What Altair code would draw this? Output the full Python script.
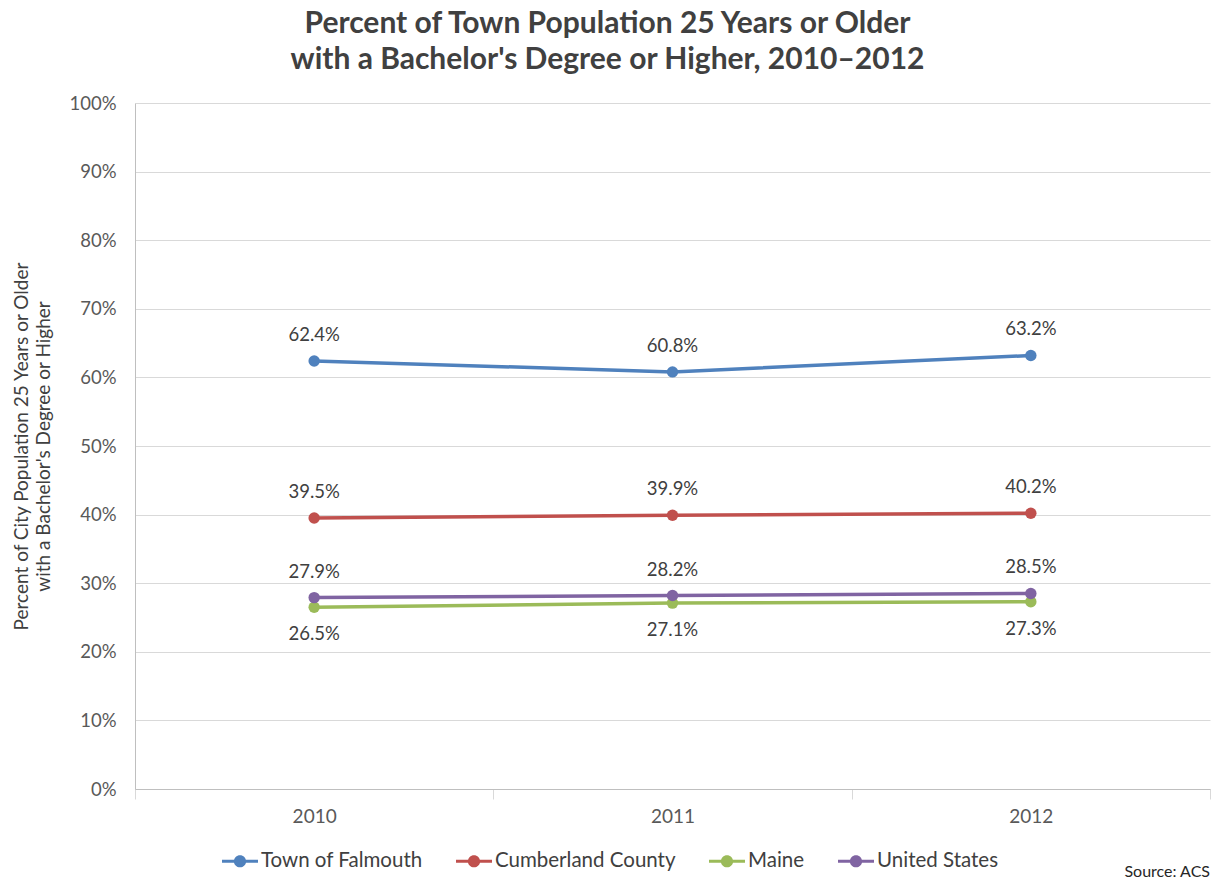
import altair as alt
import pandas as pd

# Share of adults 25+ holding a bachelor's degree or higher (percent)
years = ["2010", "2011", "2012"]
series_names = ["Town of Falmouth", "Cumberland County", "Maine", "United States"]
falmouth = [62.4, 60.8, 63.2]
cumberland = [39.5, 39.9, 40.2]
maine = [26.5, 27.1, 27.3]
united_states = [27.9, 28.2, 28.5]
series_colors = ["#4F81BD", "#C0504D", "#9BBB59", "#8064A2"]
label_side = ["above", "above", "below", "above"]

rows = []
for name, vals, side in zip(series_names, [falmouth, cumberland, maine, united_states], label_side):
    for yr, v in zip(years, vals):
        rows.append({"Year": yr, "Series": name, "Value": v, "Side": side})
df = pd.DataFrame(rows)

W, H = 1075, 686
FONT = "Lato"
TEXT = "#404040"

# legend glyph: a short bar with a dot in the middle (unit coordinates)
legend_glyph = ("M-1,-0.09H1V0.09H-1Z "
                "M0.34,0A0.34,0.34 0 1,1 -0.34,0A0.34,0.34 0 1,1 0.34,0Z")

x_enc = alt.X(
    "Year:O",
    scale=alt.Scale(type="band", paddingInner=0, paddingOuter=0),
    axis=alt.Axis(
        title=None, labelAngle=0, tickBand="extent", ticks=True, tickSize=10,
        tickColor="#d9d9d9", domainColor="#bfbfbf", grid=False,
        labelFont=FONT, labelFontSize=19, labelColor="#595959", labelPadding=8,
    ),
)
y_enc = alt.Y(
    "Value:Q",
    scale=alt.Scale(domain=[0, 100], nice=False, zero=True),
    axis=alt.Axis(
        values=list(range(0, 101, 10)), labelExpr="datum.value + '%'",
        grid=True, gridColor="#d9d9d9", domainColor="#bfbfbf", ticks=False,
        labelFont=FONT, labelFontSize=18.5, labelColor="#595959", labelPadding=19,
        title=["Percent of City Population 25 Years or Older",
               "with a Bachelor's Degree or Higher"],
        titleFont=FONT, titleFontSize=19, titleFontWeight="normal",
        titleColor=TEXT, titlePadding=15, titleLineHeight=22,
    ),
)
color_enc = alt.Color(
    "Series:N",
    scale=alt.Scale(domain=series_names, range=series_colors),
    sort=series_names,
    legend=alt.Legend(
        title=None, orient="none", legendX=87, legendY=740,
        direction="horizontal", symbolType=legend_glyph, symbolSize=1296,
        symbolStrokeWidth=0, symbolOpacity=1, labelFont=FONT,
        labelFontSize=20.5, labelColor=TEXT, labelOffset=3, columnPadding=33,
        labelLimit=0,
    ),
)

base = alt.Chart(df)

lines = base.mark_line(strokeWidth=3.5).encode(
    x=x_enc, y=y_enc, color=color_enc, detail="Series:N",
)

points = base.mark_point(filled=True, size=130, opacity=1).encode(
    x=x_enc, y=y_enc, color=color_enc,
)

value_label = "format(datum.Value, '.1f') + '%'"

labels_above = base.transform_filter(alt.datum.Side == "above").transform_calculate(
    Label=value_label
).mark_text(dy=-26, font=FONT, fontSize=18.5, color=TEXT).encode(
    x=x_enc, y=y_enc, text="Label:N"
)

labels_below = base.transform_filter(alt.datum.Side == "below").transform_calculate(
    Label=value_label
).mark_text(dy=27, font=FONT, fontSize=18.5, color=TEXT).encode(
    x=x_enc, y=y_enc, text="Label:N"
)

source = alt.Chart(pd.DataFrame({"t": ["Source: ACS"]})).mark_text(
    align="right", baseline="middle", font=FONT, fontSize=16, color="#262626"
).encode(text="t:N", x=alt.value(W), y=alt.value(H + 83))

chart = alt.layer(lines, points, labels_above, labels_below, source).properties(
    width=W, height=H,
    title=alt.TitleParams(
        text=["Percent of Town Population 25 Years or Older",
              "with a Bachelor's Degree or Higher, 2010\u20132012"],
        font=FONT, fontSize=30, fontWeight="bold", color=TEXT,
        lineHeight=36, anchor="middle", dx=-65, offset=19,
    ),
    autosize=alt.AutoSizeParams(type="none"),
    padding={"left": 135, "top": 103, "right": 11, "bottom": 99},
    background="white",
).configure_view(stroke=None)

chart.save("out.html", embed_options={"renderer": "svg", "actions": False})
